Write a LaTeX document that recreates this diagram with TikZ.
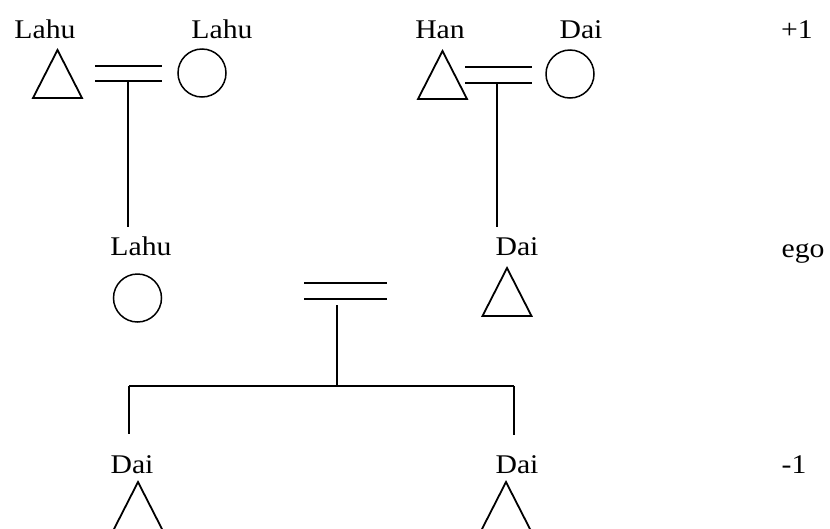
\documentclass[tikz,border=0pt]{standalone}
\usepackage{fontspec}
\setmainfont{Liberation Serif}[FakeStretch=1.1]
\begin{document}
\begin{tikzpicture}[x=1pt,y=-1pt,
  lbl/.style={anchor=base,inner sep=0pt,font=\fontsize{27}{31}\selectfont},
  female/.style={circle,draw,line width=1.5pt,minimum size=48pt,inner sep=0pt},
  male/.style={draw=none,minimum width=49pt,minimum height=48pt,inner sep=0pt,outer sep=0pt,
    append after command={\pgfextra{\draw[line width=1.8pt,line join=miter]
      (\tikzlastnode.south west) -- (\tikzlastnode.north) -- (\tikzlastnode.south east) -- cycle;}}},
  link/.style={line width=1.3pt},
]
\useasboundingbox[fill=white] (0,0) rectangle (830,528);

% generation +1
\node[lbl] (lA) at (45,38) {Lahu};
\node[male] (tA) at (57.5,74) {};
\node[lbl] (lB) at (222,38) {Lahu};
\node[female] (cB) at (202,73) {};
\coordinate (mAl) at (95,66);  \coordinate (mAr) at (162,66);
\coordinate (mAL) at (95,81);  \coordinate (mAR) at (162,81);
\coordinate (mAd) at (128,81); \coordinate (kA) at (128,227);
\draw[link] (mAl) -- (mAr);
\draw[link] (mAL) -- (mAR);
\draw[link] (mAd) -- (kA);

\node[lbl] (lC) at (440,38) {Han};
\node[male] (tC) at (442.5,75) {};
\node[lbl] (lD) at (581,38) {Dai};
\node[female] (cD) at (570,74) {};
\coordinate (mCl) at (465,67);  \coordinate (mCr) at (532,67);
\coordinate (mCL) at (465,83);  \coordinate (mCR) at (532,83);
\coordinate (mCd) at (497,83);  \coordinate (kC) at (497,227);
\draw[link] (mCl) -- (mCr);
\draw[link] (mCL) -- (mCR);
\draw[link] (mCd) -- (kC);

\node[lbl] (gP) at (797,38) {+1};

% ego generation
\node[lbl] (lE) at (141,255) {Lahu};
\node[female] (cE) at (137.5,298) {};
\node[lbl] (lF) at (517,255) {Dai};
\node[male] (tF) at (507,292) {};
\coordinate (mEl) at (304,283);  \coordinate (mEr) at (387,283);
\coordinate (mEL) at (304,299);  \coordinate (mER) at (387,299);
\coordinate (mEd) at (337,305);  \coordinate (sib) at (337,386);
\draw[link] (mEl) -- (mEr);
\draw[link] (mEL) -- (mER);
\draw[link] (mEd) -- (sib);

\node[lbl] (gE) at (803,257) {ego};

% generation -1
\coordinate (sL) at (129,386); \coordinate (sR) at (514,386);
\coordinate (kG) at (129,434); \coordinate (kH) at (514,435);
\draw[link] (sL) -- (sR);
\draw[link] (sL) -- (kG);
\draw[link] (sR) -- (kH);
\node[lbl] (lG) at (132,473) {Dai};
\node[male] (tG) at (138,506) {};
\node[lbl] (lH) at (517,473) {Dai};
\node[male] (tH) at (506,506) {};

\node[lbl] (gM) at (794,473) {-1};
\end{tikzpicture}
\end{document}
